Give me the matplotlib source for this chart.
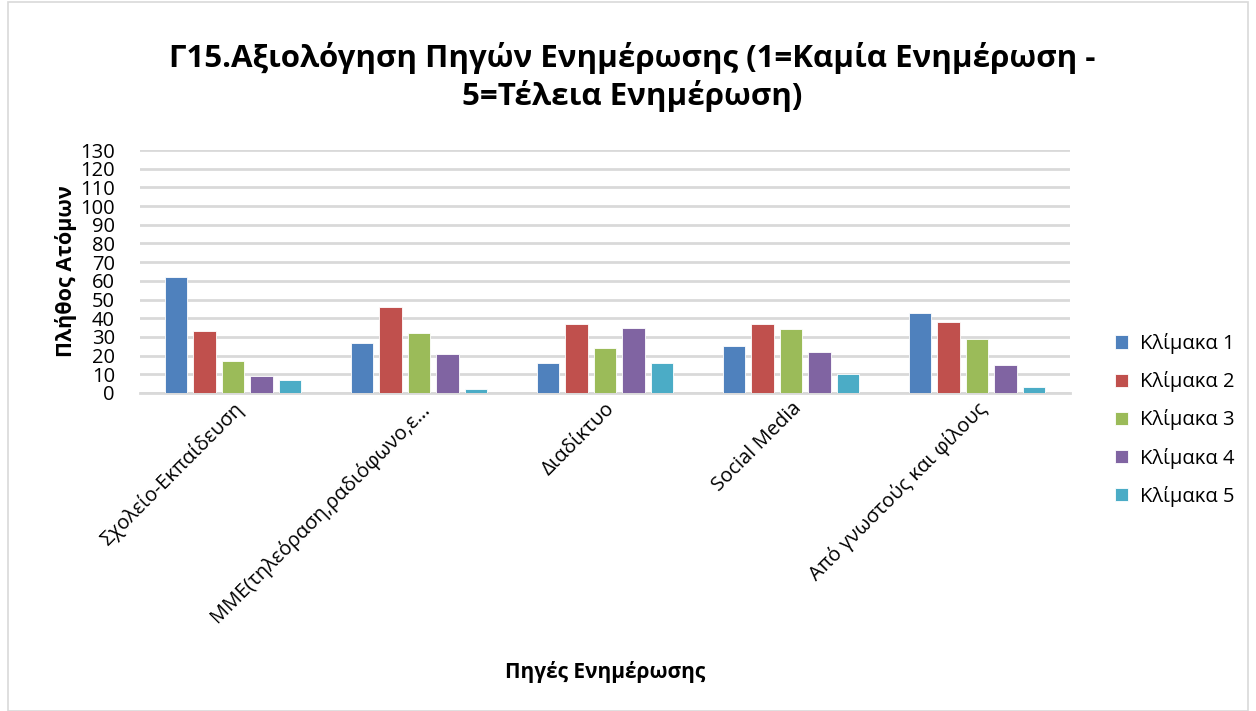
import matplotlib
matplotlib.use("Agg")
import matplotlib.pyplot as plt
import numpy as np

plt.rcParams['font.family'] = ['Open Sans', 'DejaVu Sans']

sources = ["Σχολείο-Εκπαίδευση", "ΜΜΕ(τηλεόραση,ραδιόφωνο,ε…", "Διαδίκτυο",
           "Social Media", "Από γνωστούς και φίλους"]
scale_1 = [62, 27, 16, 25, 43]
scale_2 = [33, 46, 37, 37, 38]
scale_3 = [17, 32, 24, 34, 29]
scale_4 = [9, 21, 35, 22, 15]
scale_5 = [7, 2, 16, 10, 3]
series = [scale_1, scale_2, scale_3, scale_4, scale_5]
names = ["Κλίμακα 1", "Κλίμακα 2", "Κλίμακα 3", "Κλίμακα 4", "Κλίμακα 5"]
colors = ["#4f81bd", "#c0504d", "#9bbb59", "#8064a2", "#4bacc6"]

fig = plt.figure(figsize=(12.56, 7.11), dpi=100)
ax = fig.add_axes([140 / 1256, 1 - 393 / 711, 930 / 1256, 243 / 711])

x = np.arange(len(sources))
step = 0.154
width = 0.12
for i, (vals, name, c) in enumerate(zip(series, names, colors)):
    ax.bar(x + (i - 2) * step, vals, width, color=c, label=name,
           edgecolor='white', linewidth=0.6, zorder=3)

ax.set_xlim(-0.5, len(sources) - 0.5)
ax.set_ylim(0, 130)
ax.set_yticks(range(0, 131, 10))
ax.yaxis.grid(True, color='#d9d9d9', linewidth=2, zorder=0)
for s in ['top', 'right', 'left']:
    ax.spines[s].set_visible(False)
ax.spines['bottom'].set_color('#d9d9d9')
ax.spines['bottom'].set_linewidth(2)
ax.tick_params(axis='y', length=0, labelsize=14.5, pad=18)
ax.tick_params(axis='x', length=0, labelsize=14.5, pad=4)
ax.set_xticks(x)
ax.set_xticklabels(sources, rotation=45, ha='right', rotation_mode='anchor')

ax.set_ylabel("Πλήθος Ατόμων", fontsize=15.5, fontweight='bold', labelpad=2)
fig.text(605 / 1256, 1 - 672 / 711, "Πηγές Ενημέρωσης", fontsize=15,
         fontweight='bold', ha='center', va='center')
fig.text(632 / 1256, 1 - 77 / 711,
         "Γ15.Αξιολόγηση Πηγών Ενημέρωσης (1=Καμία Ενημέρωση -\n5=Τέλεια Ενημέρωση)",
         fontsize=22.5, fontweight='bold', ha='center', va='center', linespacing=1.25)

ax.legend(loc='center left', bbox_to_anchor=(1097 / 1256, 1 - 420 / 711),
          bbox_transform=fig.transFigure, frameon=False, fontsize=14.5,
          handlelength=0.65, handleheight=0.65, handletextpad=0.6,
          labelspacing=0.85)

# thin frame round the whole chart
fig.add_artist(plt.Rectangle((8 / 1256, 0), 1 - 16 / 1256, 1 - 2 / 711,
                             transform=fig.transFigure, fill=False,
                             edgecolor='#d9d9d9', linewidth=1.2))

fig.savefig("out.png", dpi=100)
